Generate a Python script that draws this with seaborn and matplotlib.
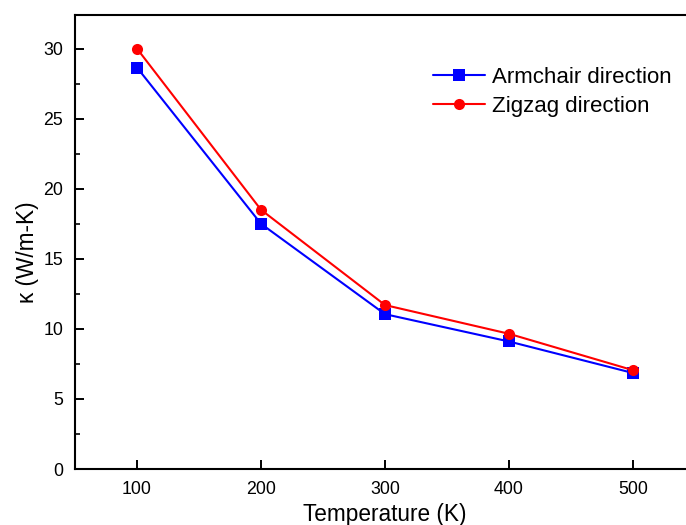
import pandas as pd
import matplotlib
matplotlib.use("Agg")
import matplotlib.pyplot as plt
import seaborn as sns
from matplotlib.ticker import MultipleLocator

temperatura = [100, 200, 300, 400, 500]
armchair = [28.65, 17.5, 11.05, 9.1, 6.85]
zigzag = [30.0, 18.5, 11.7, 9.65, 7.05]

serije = ["Armchair direction", "Zigzag direction"]

df = pd.DataFrame({
    "T": temperatura * 2,
    "kappa": armchair + zigzag,
    "serija": [serije[0]] * len(armchair) + [serije[1]] * len(zigzag),
})

sns.set_theme(style="ticks")
plt.rcParams["font.family"] = ["Liberation Sans", "DejaVu Sans"]
plt.rcParams["text.color"] = "black"
plt.rcParams["axes.labelcolor"] = "black"

fig = plt.figure(figsize=(6.86, 5.25), dpi=100)
ax = fig.add_axes([75 / 686, 56 / 525, 620 / 686, 454 / 525])

sns.lineplot(data=df, x="T", y="kappa", hue="serija", style="serija",
             palette={serije[0]: "#0000ff", serije[1]: "#ff0000"},
             markers={serije[0]: "s", serije[1]: "o"},
             dashes=False, markersize=8, markeredgewidth=0, linewidth=1.5,
             ax=ax)

ax.set_xlim(50, 550)
ax.set_ylim(0, 32.4)
ax.xaxis.set_major_locator(MultipleLocator(100))
ax.yaxis.set_major_locator(MultipleLocator(5))
ax.yaxis.set_minor_locator(MultipleLocator(2.5))
ax.tick_params(axis="both", which="major", direction="in", length=6.5, width=1.4,
               labelsize=12.8, colors="black")
ax.tick_params(axis="x", which="major", pad=9)
ax.tick_params(axis="y", which="major", pad=8.5)
ax.tick_params(axis="y", which="minor", direction="in", length=3.5, width=1.4)
for s in ax.spines.values():
    s.set_linewidth(1.5)
    s.set_color("black")

ax.set_xlabel("Temperature (K)", fontsize=16.3, labelpad=3)
ax.set_ylabel("κ (W/m-K)", fontsize=16.3)
ax.yaxis.set_label_coords(-0.058, 0.478)

leg = ax.legend(loc="upper left", bbox_to_anchor=(0.545, 0.93), frameon=False,
                fontsize=16, handlelength=2.35, handletextpad=0.3,
                labelspacing=0.35, title=None)

fig.savefig("out.png", dpi=100)
